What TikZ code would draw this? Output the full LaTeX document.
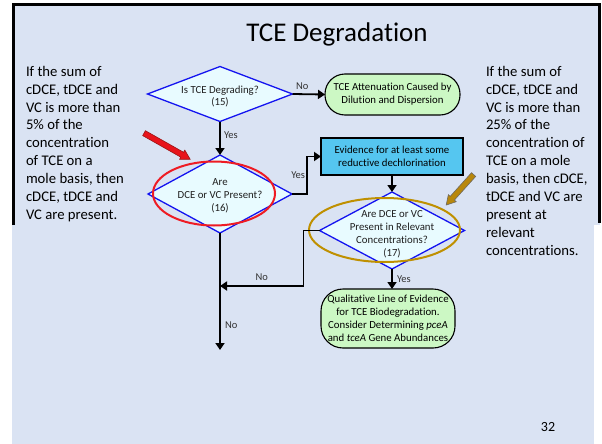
\documentclass[tikz,border=0pt]{standalone}
\usepackage{fontspec}
\setmainfont{Carlito}[Ligatures=CommonOff]
\usetikzlibrary{shapes.geometric,shapes.arrows,arrows.meta}
\definecolor{slidebg}{HTML}{DAE3F3}
\definecolor{diablue}{HTML}{1414F0}
\definecolor{diafill}{HTML}{E8FBFF}
\definecolor{termgreen}{HTML}{CCF8C4}
\definecolor{boxcyan}{HTML}{55C6F0}
\definecolor{labgray}{HTML}{333333}
\definecolor{ringred}{HTML}{EE1C24}
\definecolor{ringgold}{HTML}{BF9000}
\definecolor{pointred}{HTML}{E8141B}
\definecolor{pointredrim}{HTML}{9A1515}
\definecolor{pointgold}{HTML}{B8870B}
\definecolor{pointgoldrim}{HTML}{6F6A60}
\begin{document}
\begin{tikzpicture}[x=1pt,y=-1pt,
  every node/.style={inner sep=0pt,outer sep=0pt},
  small/.style={font=\fontsize{10.8}{12.9}\selectfont},
  note/.style={anchor=north west,align=left,font=\fontsize{14.7}{17.9}\selectfont},
  dia/.style={diamond,draw=diablue,fill=diafill,line width=1.3pt},
  dtext/.style={small,align=center,text=black!88},
  term/.style={small,draw=black,fill=termgreen,line width=1.1pt,align=center,rounded corners=#1},
  evbox/.style={small,draw=black,fill=boxcyan,line width=1.1pt,align=center},
  conn/.style={draw=black,line width=1.8pt,-{Triangle[length=7pt,width=9pt]}},
  lbl/.style={font=\fontsize{10.5}{12}\selectfont,text=labgray},
  ptr/.style={single arrow,single arrow head extend=2.5pt,single arrow tip angle=60,
    inner xsep=0pt,inner ysep=2.5pt,line width=0.6pt}
]
\useasboundingbox (0,0) rectangle (602,444);
% slide and framed upper panel
\fill[white] (0,0) rectangle (602,444);
\fill[slidebg] (12,3) rectangle (594,444);
\fill[slidebg] (12,3) rectangle (600,225);
\draw[line width=3pt] (13.5,225) -- (13.5,4.5) -- (599.5,4.5) -- (599.5,223);

% title and side notes
\node[font=\fontsize{27}{32}\selectfont] (title) at (337,34) {TCE Degradation};
\node[note] (lnote) at (26,66) {If the sum of\\cDCE, tDCE and\\VC is more than\\5\% of the\\concentration\\of TCE on a\\mole basis, then\\cDCE, tDCE and\\VC are present.};
\node[note] (rnote) at (486,66) {If the sum of\\cDCE, tDCE and\\VC is more than\\25\% of the\\concentration of\\TCE on a mole\\basis, then cDCE,\\tDCE and VC are\\present at\\relevant\\concentrations.};

% decision diamonds
\node[dia,minimum width=145,minimum height=55,
  label={[dtext,yshift=-2.5pt]center:{Is TCE Degrading?\\(15)}}] (d1) at (220,94) {};
\node[dia,minimum width=144,minimum height=78,
  label={[dtext,yshift=-2pt]center:{Are\\DCE or VC Present?\\(16)}}] (d2) at (220,194) {};
\node[dia,minimum width=145,minimum height=77,
  label={[dtext,yshift=-4pt]center:{Are DCE or VC\\Present in Relevant\\Concentrations?\\(17)}}] (d3) at (392,230.5) {};

% outcome boxes
\node[term=20pt,minimum width=135,minimum height=41] (t1) at (392.5,94.5)
  {TCE Attenuation Caused by\\Dilution and Dispersion};
\node[evbox,minimum width=142,minimum height=37] (bx) at (392,156.5)
  {Evidence for at least some\\reductive dechlorination};
\node[term=22pt,minimum width=134,minimum height=59] (t2) at (388,318.5)
  {Qualitative Line of Evidence\\for TCE Biodegradation.\\Consider Determining \textit{pceA}\\and \textit{tceA} Gene Abundances};

% highlight rings and pointers
\draw[ringred,line width=2pt] (214,193.5) ellipse [x radius=61,y radius=32];
\draw[ringgold,line width=2pt] (384.5,230) ellipse [x radius=75.5,y radius=32];
\node[ptr,draw=pointredrim,fill=pointred,minimum height=53pt,rotate=-29.5] (rptr) at (165,145) {};
\node[ptr,draw=pointgoldrim,fill=pointgold,minimum height=41pt,rotate=-132] (gptr) at (461.5,188) {};

% flow connectors
\coordinate (j) at (220,286);
\coordinate (v) at (220,350);
\draw[conn] (d1.south) -- node[lbl,right=4pt,pos=0.42]{Yes} (d2.north);
\draw[conn] (d1.east) -- node[lbl,above=5pt,pos=0.3]{No} (t1.west);
\draw[conn] (d2.east) -- ++(15,0) |- node[lbl,left=2pt,pos=0.25]{Yes} (bx.west);
\draw[conn] (bx.south) -- (d3.north);
\draw[conn] (d3.south) -- node[lbl,right=5pt]{Yes} (d3.south |- t2.north);
\draw[conn] (d3.west) -- ++(-16,0) |- node[lbl,above=5pt,pos=0.75]{No} (j);
\draw[conn] (d2.south) -- node[lbl,right=5pt,pos=0.79]{No} (v);

% slide number
\node[font=\fontsize{14}{16}\selectfont] (pg) at (548,427) {32};
\end{tikzpicture}
\end{document}
